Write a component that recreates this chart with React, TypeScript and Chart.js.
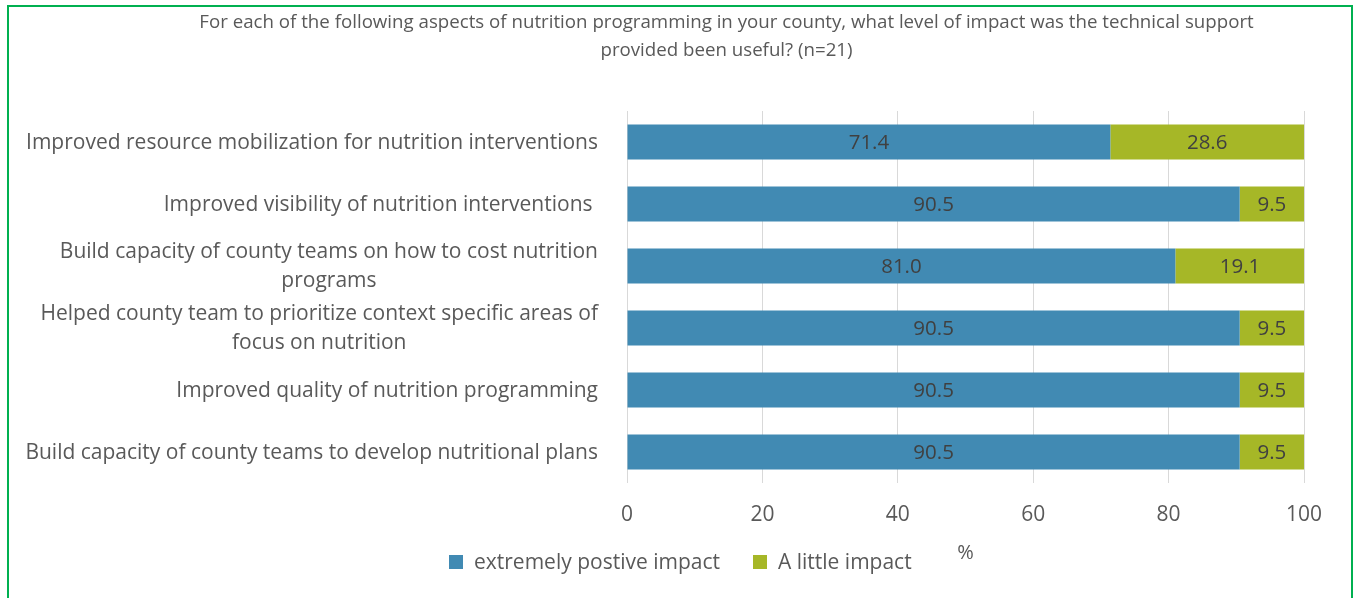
import React, { useEffect, useRef } from "react";
import { Chart, registerables } from "chart.js";

Chart.register(...registerables);

const categories: string[][] = [
  ["Improved resource mobilization for nutrition interventions"],
  ["Improved visibility of nutrition interventions "],
  ["Build capacity of county teams on how to cost nutrition", "programs"],
  ["Helped county team to prioritize context specific areas of", "focus on nutrition"],
  ["Improved quality of nutrition programming"],
  ["Build capacity of county teams to develop nutritional plans"],
];
const extremelyPositive = [71.4, 90.5, 81.0, 90.5, 90.5, 90.5];
const littleImpact = [28.6, 9.5, 19.1, 9.5, 9.5, 9.5];
const seriesNames = ["extremely postive impact", "A little impact"];
const seriesColors = ["#418ab3", "#a6b727"];
const titleLines = [
  "For each of the following aspects of nutrition programming in your county, what level of impact was the technical support",
  "provided been useful? (n=21)",
];
const xAxisTitle = "%";
const xMin = 0;
const xMax = 100;
const xStep = 20;

const FONT = "'Open Sans', 'Noto Sans', sans-serif";
const AXIS_COLOR = "#595959";
const LABEL_COLOR = "#404040";

const decorPlugin = {
  id: "decor",
  afterDatasetsDraw(chart: any) {
    const ctx = chart.ctx;
    ctx.save();
    ctx.font = `20.5px ${FONT}`;
    ctx.fillStyle = LABEL_COLOR;
    ctx.textAlign = "center";
    ctx.textBaseline = "middle";
    chart.data.datasets.forEach((ds: any, di: number) => {
      const meta = chart.getDatasetMeta(di);
      meta.data.forEach((el: any, i: number) => {
        const v = ds.data[i];
        const cx = (el.x + el.base) / 2;
        ctx.fillText(Number(v).toFixed(1), cx, el.y + 1);
      });
    });
    ctx.restore();
  },
  afterDraw(chart: any) {
    const ctx = chart.ctx;
    const area = chart.chartArea;
    ctx.save();
    // title
    ctx.fillStyle = AXIS_COLOR;
    ctx.font = `18.7px ${FONT}`;
    ctx.textAlign = "center";
    ctx.textBaseline = "middle";
    const titleCx = 726.5;
    titleLines.forEach((t, i) => ctx.fillText(t, titleCx, 23 + i * 28));

    // category labels
    const yScale = chart.scales.y;
    ctx.font = `21px ${FONT}`;
    const labelRight = area.left - 29;
    const lineH = 29;
    categories.forEach((lines, i) => {
      const cy = yScale.getPixelForValue(i) + 1;
      const widths = lines.map((l) => ctx.measureText(l).width);
      const maxW = Math.max(...widths);
      const bx = labelRight - maxW / 2;
      const n = lines.length;
      lines.forEach((l, li) => {
        const y = cy + (li - (n - 1) / 2) * lineH;
        ctx.fillText(l, bx, y);
      });
    });

    // axis title
    ctx.font = `20px ${FONT}`;
    ctx.fillText(xAxisTitle, (area.left + area.right) / 2, 553);

    // legend
    ctx.font = `21px ${FONT}`;
    ctx.textAlign = "left";
    const legendY = 562;
    const legendX = [449, 753];
    seriesNames.forEach((name, i) => {
      ctx.fillStyle = seriesColors[i];
      ctx.fillRect(legendX[i], legendY - 7, 14, 14);
      ctx.fillStyle = AXIS_COLOR;
      ctx.fillText(name, legendX[i] + 25, legendY + 1);
    });
    ctx.restore();
  },
};

export default function App() {
  const ref = useRef<HTMLCanvasElement | null>(null);
  useEffect(() => {
    if (!ref.current) return;
    const chart = new Chart(ref.current, {
      type: "bar",
      data: {
        labels: categories.map((c) => c.join(" ")),
        datasets: [
          {
            label: seriesNames[0],
            data: extremelyPositive,
            backgroundColor: seriesColors[0],
            categoryPercentage: 1,
            barPercentage: 0.565,
          },
          {
            label: seriesNames[1],
            data: littleImpact,
            backgroundColor: seriesColors[1],
            categoryPercentage: 1,
            barPercentage: 0.565,
          },
        ],
      },
      options: {
        indexAxis: "y",
        responsive: false,
        animation: false,
        devicePixelRatio: 1,
        layout: { padding: { top: 111, right: 49, left: 0, bottom: 0 } },
        plugins: {
          legend: { display: false },
          title: { display: false },
          tooltip: { enabled: false },
        },
        scales: {
          x: {
            stacked: true,
            min: xMin,
            max: xMax,
            ticks: {
              stepSize: xStep,
              padding: 19,
              color: AXIS_COLOR,
              font: { family: FONT, size: 21 },
            },
            grid: { color: "#d9d9d9", lineWidth: 1, drawTicks: false },
            border: { display: false },
            afterFit: (s: any) => {
              s.height = 115;
            },
          },
          y: {
            stacked: true,
            ticks: { display: false },
            grid: { display: false, drawTicks: false },
            border: { display: false },
            afterFit: (s: any) => {
              s.width = 627;
            },
          },
        },
      },
      plugins: [decorPlugin],
    } as any);
    return () => chart.destroy();
  }, []);

  return (
    <div>
      <canvas
        ref={ref}
        width={1353}
        height={598}
        style={{ position: "fixed", left: 0, top: 0, width: 1353, height: 598 }}
      />
      <div
        style={{
          position: "fixed",
          left: 7,
          top: 5,
          width: 1346,
          height: 640,
          border: "2px solid #00b050",
          boxSizing: "border-box",
          pointerEvents: "none",
        }}
      />
    </div>
  );
}
